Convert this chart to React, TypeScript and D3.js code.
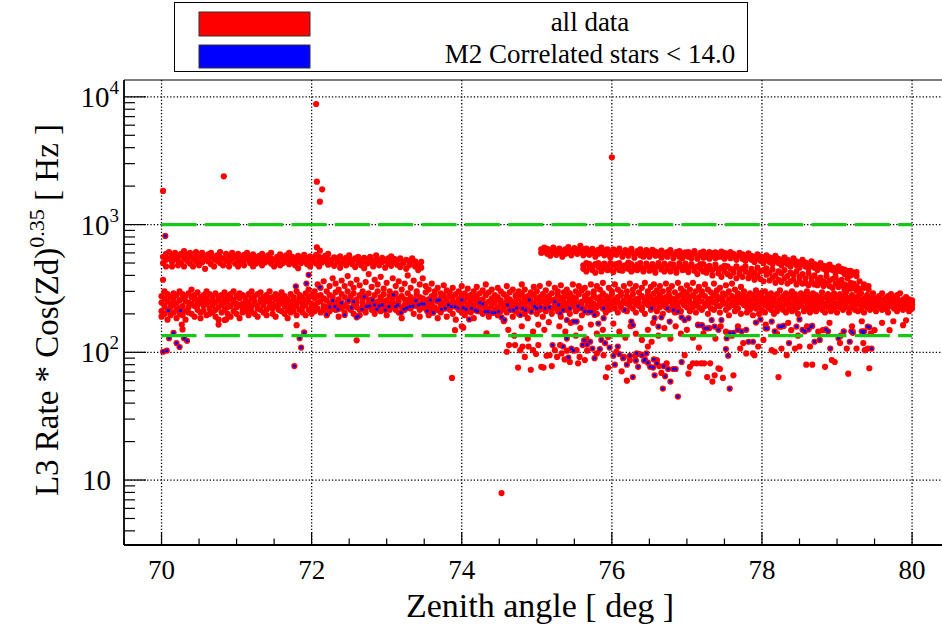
import React from 'react';
import * as d3 from 'd3';

const W = 942;
const H = 625;

const xTicks = [70, 72, 74, 76, 78, 80];
const yDecades = [10, 100, 1000, 10000];
const cutLevels = [1000, 135];
const legendLabels = ['all data', 'M2 Correlated stars < 14.0'];
const xTitle = 'Zenith angle [ deg ]';

// Upper band 70-73.5 deg (x:y,y,...)
const bandA = `70.02:560,500 70.06:590,470,530 70.10:540,610 70.14:510,570,470 70.18:600,545 70.22:480,560,520 70.26:590,505 70.30:550,620,470 70.34:520,580 70.38:495,560,600 70.42:540,470 70.46:575,515,610 70.50:530,480 70.54:565,600,505 70.58:540,450 70.62:515,585 70.66:560,490,600 70.70:535,470 70.74:575,520 70.78:500,555,610 70.82:545,480 70.86:590,520 70.90:510,560,470 70.94:540,600 70.98:495,565 71.02:530,590,470 71.06:550,505 71.10:580,520,480 71.14:540,600 71.18:500,560 71.22:525,585,470 71.26:555,495 71.30:570,515 71.34:530,480,590 71.38:550,505 71.42:575,520 71.46:495,545,600 71.50:530,470 71.54:560,510 71.58:540,585,480 71.62:500,555 71.66:525,575 71.70:550,490,600 71.74:515,560 71.78:535,480 71.82:570,510,455 71.86:545,500 71.90:520,580 71.94:490,550 71.98:565,530,470 72.02:510,545 72.06:580,495 72.10:530,560,470 72.14:505,545 72.18:570,520 72.22:485,540,590 72.26:525,500 72.30:555,475 72.34:515,545 72.38:495,565,460 72.42:530,505 72.46:550,480 72.50:510,540,575 72.54:490,525 72.58:545,465 72.62:505,560 72.66:530,480 72.70:515,550,455 72.74:495,535 72.78:560,505 72.82:520,470 72.86:540,500,575 72.90:480,525 72.94:510,550 72.98:530,460 73.02:495,545 73.06:520,475,565 73.10:505,540 73.14:485,525 73.18:545,465 73.22:510,495 73.26:530,450 73.30:480,520 73.34:500,545 73.38:470,515 73.42:490,440 73.46:510,460`;

// Main band 70-80 deg
const bandB = `70.00:210,245,275,190 70.04:230,265,200,300 70.08:250,215,285,180 70.12:225,270,195,240 70.16:260,205,290,235 70.20:240,280,215,185 70.24:220,255,300,200 70.28:265,230,195,285 70.32:210,250,275,180 70.36:245,225,290,205 70.40:270,200,240,310 70.44:230,260,190,280 70.48:255,215,295,235 70.52:205,245,270,185 70.56:280,230,210,255 70.60:240,265,195,300 70.64:220,250,285,200 70.68:260,235,205,275 70.72:245,215,290,190 70.76:270,225,255,180 70.80:235,280,205,250 70.84:215,260,240,295 70.88:250,200,275,225 70.92:230,265,190,285 70.96:255,210,245,300 71.00:225,275,200,240 71.04:265,235,185,290 71.08:240,215,280,205 71.12:210,255,270,230 71.16:285,245,195,220 71.20:230,265,210,300 71.24:250,200,240,275 71.28:220,285,230,190 71.32:260,215,250,295 71.36:235,270,205,245 71.40:215,255,280,195 71.44:245,225,265,300 71.48:270,200,240,220 71.52:230,260,190,285 71.56:250,215,275,235 71.60:210,245,295,265 71.64:275,230,200,250 71.68:240,260,215,185 71.72:225,285,245,205 71.76:260,210,270,235 71.80:245,230,195,300 71.84:215,265,250,280 71.88:270,240,205,225 71.92:235,255,290,195 71.96:250,215,270,310 72.00:225,280,240,200 72.04:265,235,300,210 72.08:245,220,275,340 72.12:280,250,205,320 72.16:230,265,360,215 72.20:255,300,225,195 72.24:240,280,330,210 72.28:270,220,380,250 72.32:215,295,245,345 72.36:260,230,310,190 72.40:285,240,365,220 72.44:230,270,205,330 72.48:250,300,225,395 72.52:275,215,260,345 72.56:240,290,200,320 72.60:260,225,370,245 72.64:215,280,335,195 72.68:245,265,300,230 72.72:275,220,355,205 72.76:235,290,255,410 72.80:260,215,325,240 72.84:225,280,370,200 72.88:250,300,235,340 72.92:270,210,260,390 72.96:230,285,315,245 73.00:255,220,350,195 73.04:240,275,300,215 73.08:265,230,380,250 73.12:215,290,330,240 73.16:250,265,205,360 73.20:275,225,310,185 73.24:235,260,345,215 73.28:255,290,230,400 73.32:220,270,320,245 73.36:260,240,365,200 73.40:230,285,300,250 73.44:270,215,340,190 73.48:245,265,380,225 73.52:220,295,255,330 73.56:260,235,310,195 73.60:240,275,215,345 73.64:280,225,260,300 73.68:215,250,320,185 73.72:265,235,290,205 73.76:245,280,220,335 73.80:225,260,305,190 73.84:275,240,215,295 73.88:250,270,200,320 73.92:230,285,245,180 73.96:260,215,300,235 74.00:240,275,205,330 74.04:220,255,290,195 74.08:270,235,315,210 74.12:250,205,280,240 74.16:230,265,300,185 74.20:275,245,215,325 74.24:210,255,290,235 74.28:260,230,200,305 74.32:240,280,220,340 74.36:220,250,295,190 74.40:265,235,310,205 74.44:245,215,280,255 74.48:225,270,195,320 74.52:255,240,300,210 74.56:235,285,220,175 74.60:270,205,250,330 74.64:215,260,295,240 74.68:250,230,310,190 74.72:275,245,210,280 74.76:230,265,300,200 74.80:245,220,285,340 74.84:265,235,200,310 74.88:220,275,250,185 74.92:255,210,295,240 74.96:240,280,225,325 75.00:230,260,200,300 75.04:270,215,245,330 75.08:250,285,220,190 75.12:235,265,305,210 75.16:275,225,250,345 75.20:215,255,290,200 75.24:260,240,320,225 75.28:245,280,210,300 75.32:225,265,335,190 75.36:270,235,295,250 75.40:240,215,310,275 75.44:255,290,225,200 75.48:230,270,340,245 75.52:265,250,210,300 75.56:220,285,240,330 75.60:250,230,305,195 75.64:275,255,215,320 75.68:235,290,260,205 75.72:260,225,340,245 75.76:240,280,300,215 75.80:225,265,200,330 75.84:270,245,310,235 75.88:250,220,290,350 75.92:230,275,255,205 75.96:265,240,320,215 76.00:245,285,225,300 76.04:220,260,340,235 76.08:270,250,205,310 76.12:235,280,295,225 76.16:255,215,330,245 76.20:275,240,300,210 76.24:230,265,345,250 76.28:250,285,220,310 76.32:240,260,205,330 76.36:265,230,295,245 76.40:225,275,320,215 76.44:255,245,350,200 76.48:280,235,300,260 76.52:240,270,215,325 76.56:230,255,340,290 76.60:265,245,305,210 76.64:250,280,225,330 76.68:235,260,300,200 76.72:270,240,345,225 76.76:255,285,215,310 76.80:225,265,330,245 76.84:260,240,295,205 76.88:245,275,350,225 76.92:280,250,210,315 76.96:235,265,300,240 77.00:255,225,335,285 77.04:270,245,310,210 77.08:240,280,225,350 77.12:260,235,300,205 77.16:225,270,325,250 77.20:250,285,215,300 77.24:275,240,340,230 77.28:235,260,310,200 77.32:265,245,295,220 77.36:245,280,345,215 77.40:255,230,305,275 77.44:230,265,320,205 77.48:270,250,290,240 77.52:240,285,335,215 77.56:260,225,300,195 77.60:250,275,345,235 77.64:230,260,310,210 77.68:275,245,290,220 77.72:245,265,325,200 77.76:260,235,300,280 77.80:225,270,250,205 77.84:255,240,290,215 77.88:280,230,260,195 77.92:240,265,305,220 77.96:250,225,285,200 78.00:270,245,215,295 78.04:235,260,300,205 78.08:255,280,225,245 78.12:240,215,270,290 78.16:265,235,250,200 78.20:225,285,240,210 78.24:250,260,305,225 78.28:275,230,215,270 78.32:240,255,290,205 78.36:260,220,245,280 78.40:230,270,210,300 78.44:255,240,285,215 78.48:245,265,225,200 78.52:270,235,290,250 78.56:225,255,210,280 78.60:260,245,300,220 78.64:240,275,230,205 78.68:265,220,255,290 78.72:235,250,280,210 78.76:255,270,225,240 78.80:245,215,265,295 78.84:270,240,205,230 78.88:225,260,285,250 78.92:250,235,275,210 78.96:265,245,220,290 79.00:240,270,230,205 79.04:255,225,285,245 79.08:235,260,215,275 79.12:270,245,230,295 79.16:220,255,265,205 79.20:250,240,280,225 79.24:265,230,215,255 79.28:240,275,245,210 79.32:255,220,290,235 79.36:230,265,250,205 79.40:270,245,225,280 79.44:240,255,215,265 79.48:225,270,245,290 79.52:260,235,210,250 79.56:245,275,230,265 79.60:230,255,290,215 79.64:265,240,220,250 79.68:250,225,275,205 79.72:235,260,245,285 79.76:270,220,255,230 79.80:245,265,210,280 79.84:225,250,290,235 79.88:260,240,215,255 79.92:240,270,225,265 79.96:250,230,260,210 80.00:235,255,220,245`;

// Upper band after 75 deg
const bandC = `75.06:640,600 75.10:615,660 75.14:590,645 75.18:630,570 75.22:605,660 75.26:580,625 75.30:650,600 75.34:615,560 75.38:640,590 75.42:600,665 75.46:625,575 75.50:655,610 75.54:590,630 75.58:615,680 75.62:640,575 75.66:605,650 75.70:580,625 75.74:645,600 75.78:615,560 75.82:635,590 75.86:600,660 75.90:625,575 75.94:590,640 75.98:610,555 76.02:640,590 76.06:580,620 76.10:610,650 76.14:595,560 76.18:630,600 76.22:570,615 76.26:605,645 76.30:585,550 76.34:620,600 76.38:575,640 76.42:600,560 76.46:630,585 76.50:560,610 76.54:595,635 76.58:615,570 76.62:580,600 76.66:625,550 76.70:595,575 76.74:560,610 76.78:600,630 76.82:575,545 76.86:610,590 76.90:560,620 76.94:595,545 76.98:575,605 77.02:610,560 77.06:545,590 77.10:595,620 77.14:565,540 77.18:600,580 77.22:550,615 77.26:585,560 77.30:610,540 77.34:570,595 77.38:545,605 77.42:590,560 77.46:560,615 77.50:600,540 77.54:575,590 77.58:545,610 77.62:590,560 77.66:560,530 77.70:600,575 77.74:540,585 77.78:575,520 77.82:595,550 77.86:530,570 77.90:560,510 77.94:585,540 77.98:520,565 78.02:555,500 78.06:575,530 78.10:510,555 78.14:545,490 78.18:570,520 78.22:500,540 78.26:530,480 78.30:555,510 78.34:490,530 78.38:520,470 78.42:545,500 78.46:480,515 78.50:505,460 78.54:530,490 78.58:470,505 78.62:495,450 78.66:515,475 78.70:460,490 78.74:480,440 78.78:500,465 78.82:450,475 78.86:470,430 78.90:485,450 78.94:440,460 78.98:455,420 79.02:470,435 79.06:430,450 79.10:445,410 79.14:420,435 79.18:435,400 79.22:410,420 79.26:395,425`;

// Second upper band after 75.6 deg
const bandD = `75.62:480,450 75.66:500,430 75.70:460,490 75.74:440,470 75.78:490,420 75.82:465,500 75.86:430,480 75.90:495,455 75.94:470,440 75.98:445,500 76.02:485,425 76.06:460,490 76.10:500,440 76.14:435,470 76.18:480,455 76.22:450,505 76.26:490,430 76.30:465,445 76.34:440,485 76.38:500,460 76.42:455,430 76.46:475,495 76.50:435,460 76.54:490,445 76.58:460,420 76.62:480,500 76.66:445,465 76.70:495,430 76.74:470,450 76.78:430,490 76.82:485,460 76.86:450,420 76.90:475,500 76.94:440,465 76.98:495,445 77.02:460,425 77.06:480,490 77.10:435,455 77.14:470,410 77.18:450,490 77.22:490,430 77.26:420,465 77.30:475,445 77.34:440,400 77.38:485,460 77.42:415,445 77.46:460,390 77.50:430,475 77.54:470,410 77.58:395,450 77.62:445,420 77.66:470,380 77.70:410,440 77.74:455,390 77.78:430,470 77.82:380,415 77.86:450,400 77.90:420,370 77.94:460,395 77.98:375,430 78.02:440,360 78.06:405,455 78.10:365,420 78.14:445,385 78.18:400,350 78.22:430,370 78.26:355,415 78.30:440,380 78.34:395,345 78.38:420,360 78.42:370,405 78.46:430,340 78.50:390,360 78.54:345,410 78.58:380,350 78.62:415,335 78.66:355,385 78.70:400,340 78.74:335,370 78.78:385,350 78.82:360,330 78.86:395,345 78.90:330,365 78.94:375,320 78.98:345,390 79.02:325,360 79.06:370,335 79.10:340,310 79.14:380,330 79.18:315,350 79.22:345,320 79.26:330,305 79.30:360,315 79.36:320,340 79.42:310,330`;

// Isolated / low-rate points (x,y)
const scatterRed = `70.02,1833 70.83,2388 72.06,8790 72.07,2167 72.14,1888 72.11,1510 72.07,663 72.11,625 76.00,3366 74.53,7.9 73.87,63 70.02,370 71.80,163 72.60,124 70.27,165 70.28,151 70.76,165 70.84,179 70.86,181 73.91,149 74.00,160 74.02,156 74.33,141
74.60,101 74.63,114 74.71,114 74.75,76 74.78,104 74.81,111 74.84,92 74.89,111 74.92,73 74.95,104 74.99,97 75.02,114 75.06,77 75.09,76 75.13,94 75.17,95 75.20,78 75.24,104 75.27,92 75.31,114 75.33,98 75.37,88 75.40,103 75.44,84 75.53,104 75.55,82 75.57,92 75.64,87 75.67,103 75.80,98 75.89,95 75.92,64 75.95,76 76.06,101 76.13,71 76.16,92 76.20,60 76.24,87 76.31,94 76.37,97 76.48,111 76.53,121 76.60,87 76.63,78 76.66,69 76.73,82 76.97,95 77.02,68 77.04,77 77.08,82 77.13,82 77.16,109 77.19,82 77.23,82 77.27,64 77.31,82 77.34,59 77.37,66 77.42,75 77.44,74 77.48,63 77.62,66 77.71,107 77.79,98 77.75,118 77.88,98 77.90,95 77.95,111 78.02,125 78.13,104 78.17,101 78.22,64 78.26,107 78.33,95 78.39,149 78.44,107 78.50,111 78.59,80 78.64,111 78.67,80 78.81,149 78.84,77 78.93,87 78.97,84 79.04,118 79.13,107 79.15,68 79.21,145 79.26,107 79.35,118 79.37,104 79.41,107 79.43,75 79.50,149 79.70,149 79.88,163
75.02,165 75.10,150 75.16,172 75.30,160 75.38,145 75.45,170 75.52,135 75.58,155 75.66,128 75.72,165 75.80,140 75.88,150 75.95,132 76.02,168 76.10,145 76.18,130 76.25,160 76.32,140 76.40,125 76.48,150 76.55,170 76.62,135 76.70,155 76.78,128 76.85,160 76.92,140 77.00,150 77.08,130 77.15,165 77.22,140 77.30,155 77.38,128 77.45,160 77.52,145 77.60,135 77.68,160 74.62,150 74.70,135 74.80,160 74.88,128 74.95,145
78.05,165 78.20,140 78.35,170 78.48,135 78.60,160 78.75,145 78.90,170 79.05,135 79.20,160 79.33,175 79.45,140 79.60,170 79.75,175 79.92,178`;

// M2 correlated stars < 14.0 (subset, also part of all data)
const subsetBlue = `70.02,101 70.07,103 70.10,129 70.16,142 70.20,118 70.24,110 70.30,129 70.34,123 70.05,815 70.09,212 70.25,212 71.77,78 71.84,129 71.90,143 71.86,109 71.96,404 71.93,345 71.79,329 72.11,323 72.20,198 72.24,226
72.28,254 72.31,228 72.35,217 72.40,244 72.44,196 72.49,254 72.53,223 72.56,249 72.60,188 72.62,192 72.67,217 72.70,272 72.73,228 72.77,230 72.81,257 72.84,235 72.87,217 72.90,230 72.94,235 72.98,214 73.03,228 73.09,281 73.12,228 73.15,235 73.19,204 73.23,217 73.27,223 73.31,228 73.35,230 73.39,254 73.42,235 73.465,239 73.50,239 73.54,210 73.58,257 73.62,204 73.67,254 73.70,257 73.73,217 73.78,221 73.82,235 73.86,228 73.91,228 73.95,221 74.00,257 74.02,223 74.06,217 74.10,181 74.13,221 74.18,214 74.21,210 74.24,244 74.28,239 74.31,208 74.35,208 74.40,204 74.44,204 74.49,208 74.53,188 74.57,179 74.61,235 74.64,214 74.69,214 74.73,223 74.78,196 74.81,221 74.85,214 74.90,257 74.93,208 74.97,228
75.00,221 75.05,225 75.11,221 75.17,225 75.24,249 75.29,235 75.31,202 75.35,214 75.40,179 75.44,221 75.49,174 75.53,174 75.55,230 75.60,221 75.64,208 75.69,208 75.73,208 75.77,196 75.82,168 75.89,221 75.89,185 76.17,214 76.26,174 76.28,163 76.53,221 76.57,185 76.62,159 76.66,188 76.74,221 76.77,174 76.82,214 76.88,208 76.93,188 76.97,179 77.02,185 77.15,163 77.20,163 77.24,154 77.28,154 77.33,179 77.37,159 77.42,150 77.46,179 77.53,129 77.57,142 77.62,142 77.68,150 77.73,146
75.21,114 75.35,111 75.42,91 75.46,107 75.49,103 75.61,114 75.71,121 75.74,107 75.77,90 75.84,106 75.86,125 75.97,109 76.02,94 76.04,80 76.08,111 76.20,80 76.28,64 76.32,86 76.35,77 76.40,95 76.43,86 76.46,98 76.51,77 76.55,76 76.57,66 76.68,52 76.71,65 76.75,74 76.78,59 76.82,74 76.85,74 76.88,45 76.93,84 77.52,106 77.55,94 77.57,52 75.40,128 75.63,124 75.67,115 75.91,118 76.10,97 76.15,90 76.24,94 76.33,98 76.44,88 76.48,83 76.56,88 76.60,82 76.69,78
77.79,150 77.82,121 77.88,121 77.92,171 77.98,181 78.05,154 78.07,154 78.13,174 78.17,146 78.23,159 78.26,159 78.29,161 78.36,118 78.46,159 78.50,181 78.54,150 78.57,146 78.62,151 78.65,159 78.67,161 78.70,121 78.77,125 78.85,151 78.88,146 78.91,107 79.02,129 79.09,146 79.17,121 79.19,146 79.33,146 79.36,146 79.43,157 79.46,107 79.21,142 79.35,142 79.41,159`;

function parseCols(s: string): [number, number][] {
  const out: [number, number][] = [];
  s.trim().split(/\s+/).forEach((tok) => {
    const [xs, ys] = tok.split(':');
    ys.split(',').forEach((v) => out.push([+xs, +v]));
  });
  return out;
}
function parsePts(s: string): [number, number][] {
  return s.trim().split(/\s+/).map((t) => {
    const [a, b] = t.split(',');
    return [+a, +b] as [number, number];
  });
}

const bluePts = parsePts(subsetBlue);
const redPts: [number, number][] = [
  ...parseCols(bandA),
  ...parseCols(bandB),
  ...parseCols(bandC),
  ...parseCols(bandD),
  ...parsePts(scatterRed),
  ...bluePts,
];

const FONT = '"Liberation Serif", "DejaVu Serif", serif';

export default function App() {
  const left = 124, right = 942, top = 80, bottom = 545;
  const x = d3.scaleLinear().domain([69.5, 80.5]).range([124, 949.6]);
  const y = d3.scaleLog().domain([3.1, 13550]).range([545, 80]);

  const minorY: number[] = [];
  for (let k = 0; k <= 4; k++) {
    for (let m = 2; m <= 9; m++) {
      const v = m * Math.pow(10, k);
      if (v > 3.1 && v < 13550) minorY.push(v);
    }
  }
  const minorX = d3.range(69.5, 80.51, 0.5).filter((v) => Math.abs(v - Math.round(v / 2) * 2) > 0.01);
  const supMap: Record<number, string> = { 100: '2', 1000: '3', 10000: '4' };

  return (
    <svg width={W} height={H} style={{ position: 'absolute', left: 0, top: 0, background: '#fff' }} fontFamily={FONT}>
      <rect x={0} y={0} width={W} height={H} fill="#fff" />
      {/* grid */}
      {xTicks.map((t) => (
        <line key={'gx' + t} x1={x(t)} x2={x(t)} y1={top} y2={bottom} stroke="#000" strokeWidth={1.3} strokeDasharray="1.3 2" />
      ))}
      {yDecades.map((t) => (
        <line key={'gy' + t} x1={left} x2={right} y1={y(t)} y2={y(t)} stroke="#000" strokeWidth={1.3} strokeDasharray="1.3 2" />
      ))}
      {/* data */}
      <g fill="#ff0000">
        {redPts.map((p, i) => (
          <circle key={'r' + i} cx={x(p[0])} cy={y(p[1])} r={3.1} />
        ))}
      </g>
      <g fill="#0000ff">
        {bluePts.map((p, i) => (
          <rect key={'b' + i} x={x(p[0]) - 1.4} y={y(p[1]) - 1.4} width={2.8} height={2.8} />
        ))}
      </g>
      {/* cut lines */}
      {cutLevels.map((c) => (
        <line key={'c' + c} x1={x(70)} x2={x(80)} y1={y(c)} y2={y(c)} stroke="#14c814" strokeWidth={3.2} strokeDasharray="35 8.33" />
      ))}
      {/* frame */}
      <line x1={left} x2={right} y1={top} y2={top} stroke="#000" strokeWidth={1.2} />
      <line x1={left} x2={left} y1={top} y2={bottom} stroke="#000" strokeWidth={1.8} />
      <line x1={left} x2={right} y1={bottom} y2={bottom} stroke="#000" strokeWidth={1.8} />
      {/* y ticks */}
      {yDecades.map((t) => (
        <line key={'yt' + t} x1={left} x2={left + 22} y1={y(t)} y2={y(t)} stroke="#000" strokeWidth={1.2} />
      ))}
      {minorY.map((t) => (
        <line key={'ym' + t} x1={left} x2={left + 11} y1={y(t)} y2={y(t)} stroke="#000" strokeWidth={1.2} />
      ))}
      {/* x ticks */}
      {xTicks.map((t) => (
        <line key={'xt' + t} x1={x(t)} x2={x(t)} y1={bottom} y2={bottom - 13} stroke="#000" strokeWidth={1.2} />
      ))}
      {minorX.map((t) => (
        <line key={'xm' + t} x1={x(t)} x2={x(t)} y1={bottom} y2={bottom - 6.5} stroke="#000" strokeWidth={1.2} />
      ))}
      {/* x tick labels */}
      {xTicks.map((t) => (
        <text key={'xl' + t} x={x(t)} y={579} textAnchor="middle" fontSize={27}>{t}</text>
      ))}
      {/* y tick labels */}
      {yDecades.map((t) =>
        supMap[t] ? (
          <text key={'yl' + t} x={119} y={y(t) + 10} textAnchor="end" fontSize={29}>
            10<tspan dy={-13} fontSize={19}>{supMap[t]}</tspan>
          </text>
        ) : (
          <text key={'yl' + t} x={111} y={y(t) + 10} textAnchor="end" fontSize={29}>10</text>
        )
      )}
      {/* axis titles */}
      <text x={540} y={617} textAnchor="middle" fontSize={34}>{xTitle}</text>
      <text transform="translate(58,310) rotate(-90)" textAnchor="middle" fontSize={33}>
        L3 Rate * Cos(Zd)<tspan dy={-14} fontSize={22}>0.35</tspan><tspan dy={14}> [ Hz ]</tspan>
      </text>
      {/* legend */}
      <rect x={174.5} y={2.5} width={573} height={69} fill="#fff" stroke="#000" strokeWidth={1} />
      <rect x={199} y={12} width={111} height={24} fill="#ff0000" stroke="#333" strokeWidth={1} />
      <rect x={199} y={45} width={111} height={23} fill="#0000ff" stroke="#333" strokeWidth={1} />
      <text x={590} y={31} textAnchor="middle" fontSize={27}>{legendLabels[0]}</text>
      <text x={590} y={63} textAnchor="middle" fontSize={27}>{legendLabels[1]}</text>
    </svg>
  );
}
